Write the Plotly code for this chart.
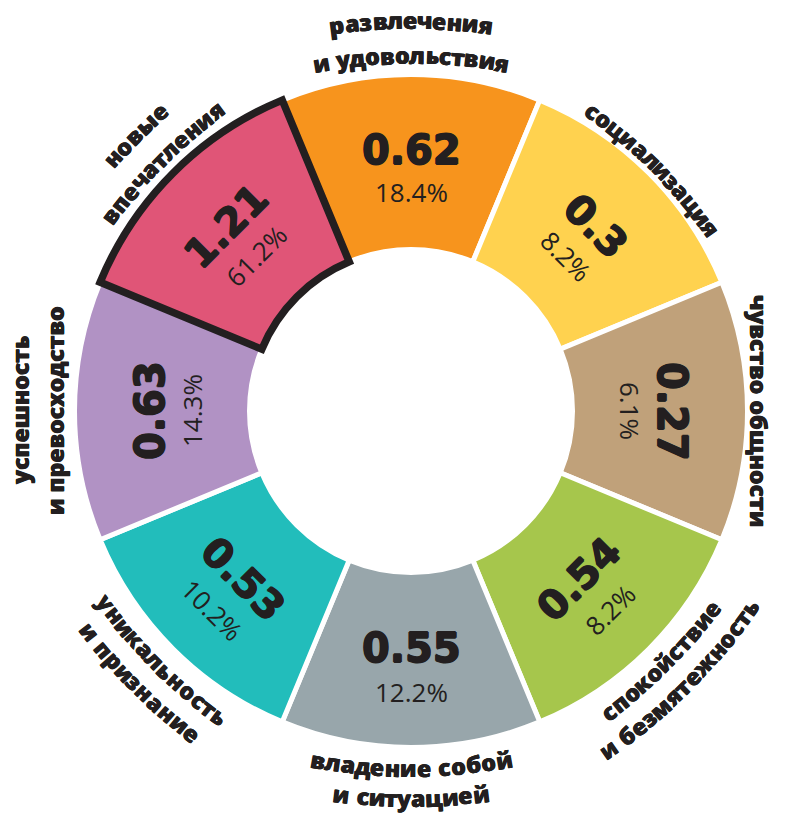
import math
import plotly.graph_objects as go

# Segment data, clockwise starting from the top
category_lines = [
    ("развлечения", "и удовольствия"),
    ("социализация",),
    ("чувство общности",),
    ("спокойствие", "и безмятежность"),
    ("владение собой", "и ситуацией"),
    ("уникальность", "и признание"),
    ("успешность", "и превосходство"),
    ("новые", "впечатления"),
]
values = [0.62, 0.3, 0.27, 0.54, 0.55, 0.53, 0.63, 1.21]
shares = [18.4, 8.2, 6.1, 8.2, 12.2, 10.2, 14.3, 61.2]
colors = ["#f7941d", "#ffd24f", "#c0a17a", "#a6c64c",
          "#98a6ab", "#22bdbb", "#b192c4", "#e05577"]
highlight = "новые"

# Canvas / ring geometry (pixels)
W, H = 785, 818
CX, CY = 411, 411
RP = 345                     # pixel radius of the polar area = radial range max
R_IN, R_OUT = 161.5, 336.5
INK = "#231f20"

# Approximate advance widths (em) of the bold caption font, used to lay
# captions out letter by letter along a gentle arc
CHAR_EM = {
    "а": .60, "б": .61, "в": .60, "г": .47, "д": .60, "е": .59, "ж": .84,
    "з": .50, "и": .64, "й": .64, "к": .59, "л": .61, "м": .77, "н": .64,
    "о": .61, "п": .63, "р": .62, "с": .49, "т": .49, "у": .56, "ф": .80,
    "х": .57, "ц": .66, "ч": .60, "ш": .93, "щ": .95, "ь": .57, "ы": .82,
    "э": .51, "ю": .87, "я": .59, " ": .26,
}
TRACK = 0.05
BEND = 1.5                   # caption arc radius relative to its distance from the centre
CAP_FONT = dict(family="Open Sans", weight=800, size=23,
                shadow="0.4px 0 0 #231f20, -0.4px 0 0 #231f20")
VAL_FONT = dict(family="DejaVu Sans", weight=700, size=40,
                shadow="0.8px 0 0 #231f20, -0.8px 0 0 #231f20, "
                       "0 0.8px 0 #231f20, 0 -0.8px 0 #231f20")
PCT_FONT = dict(family="Open Sans", weight=400, size=26)

n = len(values)
step = 360 / n
thetas = [i * step for i in range(n)]
is_hl = [lines[0] == highlight for lines in category_lines]

fig = go.Figure()
fig.add_trace(go.Barpolar(
    theta=thetas,
    r=[R_OUT - R_IN] * n,
    base=[R_IN] * n,
    width=[step] * n,
    marker=dict(
        color=colors,
        line=dict(color=[INK if h else "white" for h in is_hl],
                  width=[7.5 if h else 5 for h in is_hl]),
    ),
    hoverinfo="skip",
))


def polar_px(r, phi, ox=CX, oy=CY):
    a = math.radians(phi)
    return ox + r * math.sin(a), oy - r * math.cos(a)


def add_label(txt, px, py, ang, font):
    ang = (ang + 180) % 360 - 180
    fig.add_annotation(
        x=px / W, y=1 - py / H, xref="paper", yref="paper", text=txt,
        showarrow=False, textangle=ang, xanchor="center", yanchor="middle",
        font=dict(color=INK, **font),
    )


def add_text(txt, r, phi, font, upright_out):
    px, py = polar_px(r, phi)
    add_label(txt, px, py, phi if upright_out else phi - 180, font)


def add_arc_text(txt, r, phi, font, upright_out, bend):
    if bend is None:
        add_text(txt, r, phi, font, upright_out)
        return
    size = font["size"]
    rc = r * bend
    ox, oy = polar_px(r - rc, phi)          # centre of the caption arc
    widths = [(CHAR_EM.get(ch, 0.6) + TRACK) * size for ch in txt]
    pos = -sum(widths) / 2
    for ch, w in zip(txt, widths):
        c = pos + w / 2
        pos += w
        if ch == " ":
            continue
        d = math.degrees(c / rc)
        psi = phi + d if upright_out else phi - d
        px, py = polar_px(rc, psi, ox, oy)
        add_label(ch, px, py, psi if upright_out else psi - 180, font)


for phi, lines, v, s in zip(thetas, category_lines, values, shares):
    out = not (90 < phi < 270)   # lower segments read with the top towards the centre
    if out:
        add_text(f"{v:g}", 261, phi, VAL_FONT, out)
        add_text(f"{s:.1f}%", 219, phi, PCT_FONT, out)
    else:
        add_text(f"{v:g}", 237, phi, VAL_FONT, out)
        add_text(f"{s:.1f}%", 281, phi, PCT_FONT, out)
    # category caption outside the ring; side captions stay straight
    bend = None if phi % 180 == 90 else BEND
    if len(lines) == 1:
        radii = [348]
    elif out:
        radii = [391, 356]
    else:
        radii = [357, 387]
    for txt, rr in zip(lines, radii):
        add_arc_text(txt, rr, phi, CAP_FONT, out, bend)

fig.update_layout(
    width=W, height=H,
    margin=dict(l=0, r=0, t=0, b=0),
    paper_bgcolor="white",
    plot_bgcolor="white",
    showlegend=False,
    polar=dict(
        domain=dict(x=[(CX - RP) / W, (CX + RP) / W],
                    y=[1 - (CY + RP) / H, 1 - (CY - RP) / H]),
        bgcolor="white",
        angularaxis=dict(rotation=90, direction="clockwise", visible=False,
                         showgrid=False),
        radialaxis=dict(range=[0, RP], visible=False, showgrid=False),
        bargap=0,
    ),
)

fig.write_html("out.html")
